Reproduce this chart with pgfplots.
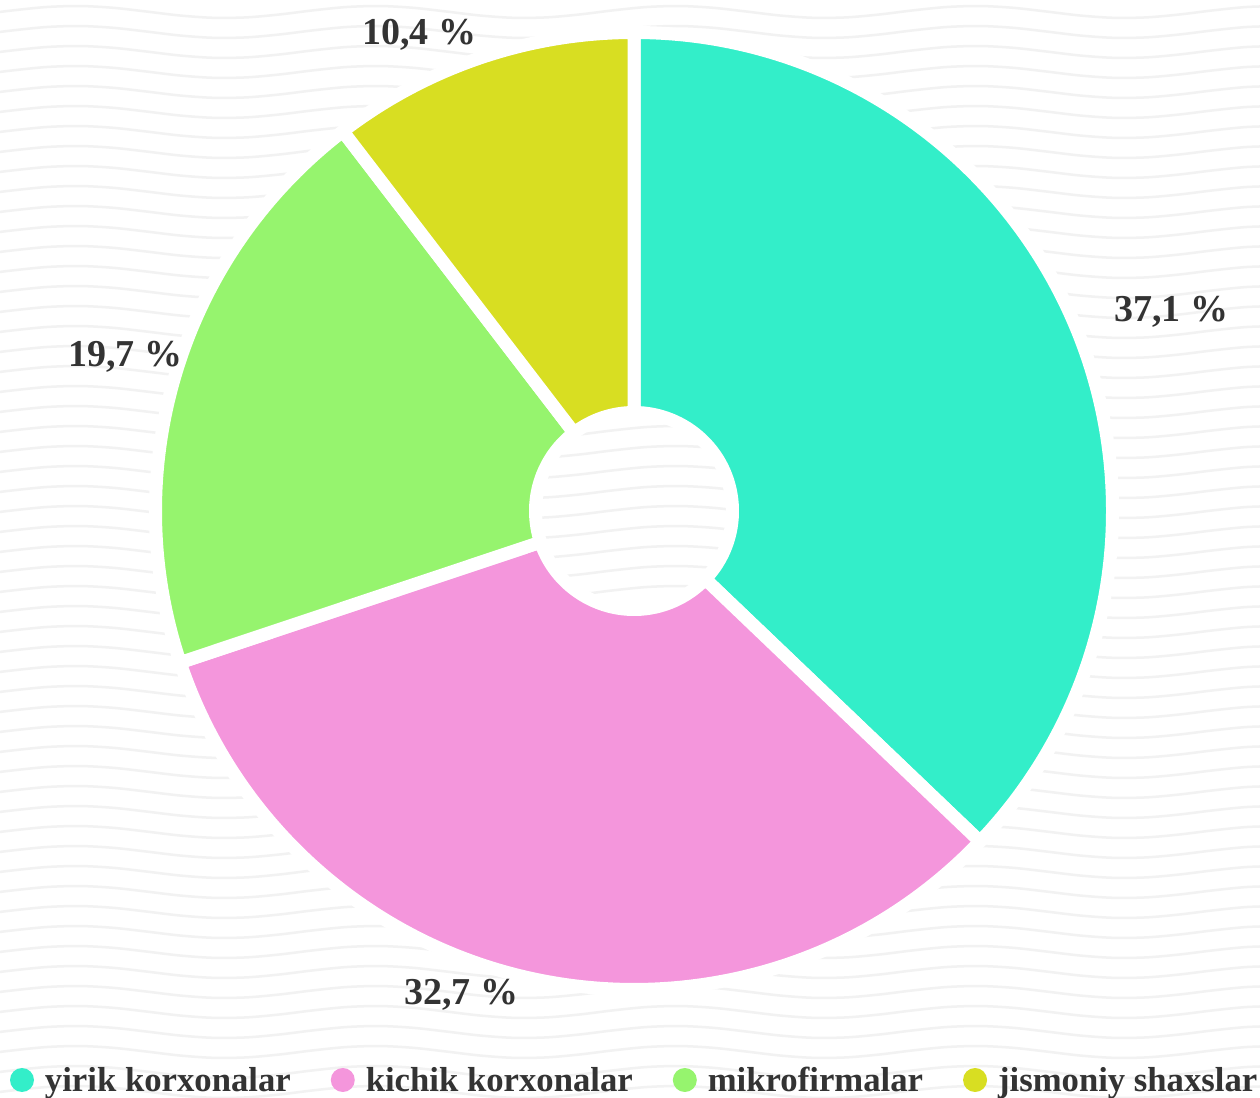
\documentclass[border=0pt]{standalone}
\usepackage{pgfplots}
\pgfplotsset{compat=1.18}
\usepackage{pgfplotstable}
\usepackage{fontspec}
\setmainfont{Liberation Serif}

\definecolor{cyanC}{RGB}{51,238,201}
\definecolor{pinkC}{RGB}{244,150,220}
\definecolor{greenC}{RGB}{150,244,110}
\definecolor{yellowC}{RGB}{216,222,34}
\definecolor{textC}{RGB}{51,51,51}
\definecolor{waveC}{RGB}{242,242,242}

\pgfplotstableread{
name share
yirik 37.1
kichik 32.7
mikro 19.7
jismoniy 10.4
}\sharetable

\pgfplotstablegetelem{0}{share}\of\sharetable \pgfmathsetmacro\sA{\pgfplotsretval}
\pgfplotstablegetelem{1}{share}\of\sharetable \pgfmathsetmacro\sB{\pgfplotsretval}
\pgfplotstablegetelem{2}{share}\of\sharetable \pgfmathsetmacro\sC{\pgfplotsretval}
\pgfplotstablegetelem{3}{share}\of\sharetable \pgfmathsetmacro\sD{\pgfplotsretval}
\pgfmathsetmacro\total{\sA+\sB+\sC+\sD}
\pgfmathsetmacro\aZero{90}
\pgfmathsetmacro\aOne{\aZero-360*\sA/\total}
\pgfmathsetmacro\aTwo{\aOne-360*\sB/\total}
\pgfmathsetmacro\aThree{\aTwo-360*\sC/\total}
\pgfmathsetmacro\aFour{\aThree-360*\sD/\total}

% outer / inner fill radius (white 13pt stroke eats 6.5pt on each side)
\def\Ro{478.5}
\def\Ri{98.5}
\pgfmathsetmacro\Rd{\Ro-\Ri}

\newcommand{\donutwedge}[3]{%
  \fill[#1, draw=white, line width=13pt, line join=round]
    (axis cs:634,586) ++(#2:\Ro pt) arc[start angle=#2, end angle=#3, radius=\Ro pt]
    -- ++(#3+180:\Rd pt) arc[start angle=#3, end angle=#2, radius=\Ri pt] -- cycle;}

\begin{document}
\begin{tikzpicture}
\fill[white] (0,0) rectangle (1260pt,1097pt);
\begin{scope}[x=1pt, y=1pt]
\clip (0,0) rectangle (1260,1097);
\foreach \k in {-1,...,56}{
  \draw[waveC, line width=2.5pt] plot[domain=-20:1280, samples=40, smooth]
    (\x, {\k*20+5+6*sin(1.2*\x)});
}
\end{scope}
\begin{axis}[
  at={(0,0)}, anchor=south west,
  scale only axis, width=1260pt, height=1097pt,
  xmin=0, xmax=1260, ymin=0, ymax=1097,
  hide axis, clip=true,
  legend columns=4,
  legend style={draw=none, fill=none, at={(axis cs:10,17)}, anchor=west,
    font=\fontsize{34.7}{40}\selectfont\bfseries, text=textC,
    inner sep=0pt, outer sep=0pt,
    /tikz/every even column/.append style={column sep=40pt},
    /tikz/every odd column/.append style={column sep=0pt},
    nodes={inner xsep=0pt, inner ysep=0pt}},
  legend image code/.code={\fill[#1, draw=none] (12pt,0pt) circle (12pt); \path[draw=none, fill=none] (0pt,0pt) (35pt,0pt);},
]
\donutwedge{cyanC}{\aZero}{\aOne}
\donutwedge{pinkC}{\aOne}{\aTwo}
\donutwedge{greenC}{\aTwo}{\aThree}
\donutwedge{yellowC}{\aThree}{\aFour}

\addlegendimage{fill=cyanC}\addlegendentry{yirik korxonalar}
\addlegendimage{fill=pinkC}\addlegendentry{kichik korxonalar}
\addlegendimage{fill=greenC}\addlegendentry{mikrofirmalar}
\addlegendimage{fill=yellowC}\addlegendentry{jismoniy shaxslar}

\begin{scope}[every node/.style={font=\fontsize{38}{40}\selectfont\bfseries, text=textC, anchor=base, inner sep=0pt}]
\node at (axis cs:1171,775) {37,1 \%};
\node at (axis cs:461,92) {32,7 \%};
\node at (axis cs:125,730) {19,7 \%};
\node at (axis cs:419,1052) {10,4 \%};
\end{scope}
\end{axis}
\pgfresetboundingbox
\useasboundingbox (0,0) rectangle (1260pt,1097pt);
\end{tikzpicture}
\end{document}
